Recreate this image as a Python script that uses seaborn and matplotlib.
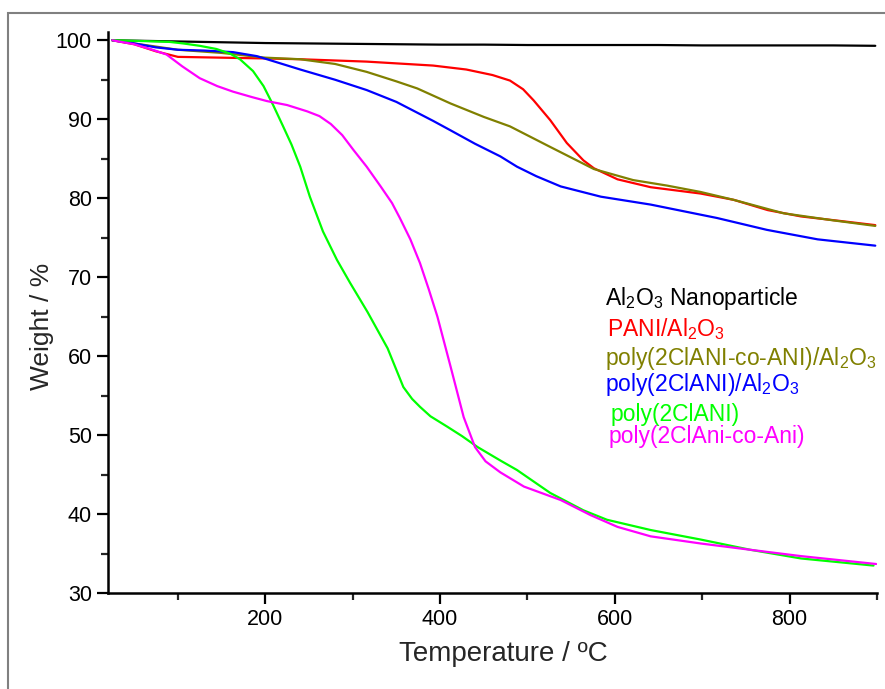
import numpy as np
import seaborn as sns
import matplotlib.pyplot as plt
from matplotlib.patches import Rectangle
from matplotlib.ticker import MultipleLocator

# TGA curves (temperature in C, weight in %)
black_T = [25, 50, 100, 150, 200, 250, 300, 350, 400, 450, 500, 550, 600, 650, 700, 750, 800, 850, 898]
black_W = [100, 99.95, 99.85, 99.75, 99.65, 99.6, 99.55, 99.5, 99.45, 99.45, 99.4, 99.4, 99.4, 99.4,
           99.35, 99.35, 99.35, 99.35, 99.3]

red_T = [25, 50, 75, 100, 150, 200, 240, 316, 392, 430, 460, 480, 495, 507, 526, 545, 564, 576,
         603, 641, 698, 736, 775, 813, 860, 898]
red_W = [100, 99.5, 98.6, 97.9, 97.8, 97.7, 97.6, 97.3, 96.8, 96.3, 95.6, 94.9, 93.8, 92.4, 89.9,
         87.0, 84.8, 83.8, 82.4, 81.4, 80.6, 79.8, 78.5, 77.7, 77.1, 76.6]

olive_T = [25, 50, 100, 150, 200, 240, 280, 316, 350, 374, 412, 450, 480, 526, 576, 621, 660, 698,
           736, 793, 850, 898]
olive_W = [100, 99.6, 98.8, 98.4, 97.8, 97.6, 97.0, 96.0, 94.8, 93.9, 92.0, 90.3, 89.1, 86.5, 83.7,
           82.3, 81.6, 80.8, 79.8, 78.1, 77.2, 76.5]

blue_T = [25, 50, 75, 100, 130, 163, 190, 202, 240, 280, 316, 350, 392, 412, 440, 469, 488, 510,
          538, 584, 641, 717, 774, 832, 898]
blue_W = [100, 99.6, 99.1, 98.8, 98.7, 98.5, 98.0, 97.6, 96.3, 95.0, 93.7, 92.2, 89.8, 88.6, 86.9,
          85.3, 84.0, 82.8, 81.5, 80.2, 79.2, 77.5, 76.0, 74.8, 74.0]

green_T = [25, 60, 90, 106, 125, 144, 160, 171, 186, 198, 209, 220, 230, 240, 251, 266, 282, 297,
           317, 340, 358, 368, 377, 389, 408, 425, 443, 469, 488, 526, 564, 591, 641, 698, 755,
           813, 896]
green_W = [100, 99.9, 99.8, 99.6, 99.3, 98.9, 98.3, 97.6, 96.1, 94.2, 91.8, 89.2, 86.8, 84.0, 80.2,
           75.8, 72.2, 69.3, 65.6, 61.0, 56.1, 54.6, 53.6, 52.4, 51.1, 49.9, 48.5, 46.8, 45.6,
           42.7, 40.5, 39.3, 38.0, 36.8, 35.5, 34.4, 33.5]

magenta_T = [25, 50, 71, 87, 105, 125, 145, 163, 185, 202, 225, 248, 262, 275, 288, 301, 316, 332,
             345, 354, 366, 377, 387, 397, 412, 427, 440, 452, 469, 496, 538, 572, 603, 641, 698,
             755, 813, 899]
magenta_W = [100, 99.5, 98.8, 98.2, 96.7, 95.2, 94.2, 93.5, 92.8, 92.3, 91.8, 91.0, 90.4, 89.4,
             88.0, 86.1, 84.0, 81.5, 79.4, 77.5, 74.8, 71.8, 68.5, 65.0, 58.7, 52.3, 48.5, 46.7,
             45.3, 43.5, 41.8, 39.9, 38.4, 37.2, 36.3, 35.5, 34.7, 33.7]

labels = ['Al$_2$O$_3$ Nanoparticle', 'PANI/Al$_2$O$_3$', 'poly(2ClANI-co-ANI)/Al$_2$O$_3$',
          'poly(2ClANI)/Al$_2$O$_3$', 'poly(2ClANI)', 'poly(2ClAni-co-Ani)']

sns.set_style('ticks')
plt.rcParams['font.family'] = ['Liberation Sans', 'DejaVu Sans']
plt.rcParams['mathtext.fontset'] = 'custom'
plt.rcParams['mathtext.rm'] = 'Liberation Sans'
plt.rcParams['mathtext.default'] = 'regular'

fig = plt.figure(figsize=(8.85, 6.89), dpi=100)
ax = fig.add_axes([0.122, 0.139, 0.869, 0.814])

series = [(black_T, black_W, 'black'), (red_T, red_W, '#ff0000'), (olive_T, olive_W, '#808000'),
          (blue_T, blue_W, '#0000ff'), (green_T, green_W, '#00ff00'), (magenta_T, magenta_W, '#ff00ff')]
for t, w, c in series:
    sns.lineplot(x=t, y=w, color=c, linewidth=1.6, ax=ax)

ax.set_xlim(20, 900)
ax.set_ylim(30, 101)
ax.set_xticks([200, 400, 600, 800])
ax.xaxis.set_minor_locator(MultipleLocator(100))
ax.set_yticks(np.arange(30, 101, 10))
ax.yaxis.set_minor_locator(MultipleLocator(5))
ax.tick_params(which='major', direction='out', length=8, width=1.6, labelsize=15.5, colors='black')
ax.tick_params(which='minor', direction='out', length=5, width=1.6)
for s in ['left', 'bottom']:
    ax.spines[s].set_linewidth(1.8)
    ax.spines[s].set_color('black')
sns.despine(ax=ax)

ax.set_xlabel('Temperature / ºC', fontsize=20)
ax.set_ylabel('Weight / %', fontsize=19)
ax.xaxis.set_label_coords(0.514, -0.085)
ax.yaxis.set_label_coords(-0.07, 0.475)

# legend drawn as coloured text, as in the original figure
txt_x = [589, 591, 589, 589, 595, 593]
txt_y = [66.5, 62.6, 58.9, 55.6, 51.8, 49.0]
txt_c = ['black', '#ff0000', '#808000', '#0000ff', '#00ff00', '#ff00ff']
for lab, x, y, c in zip(labels, txt_x, txt_y, txt_c):
    ax.text(x, y, lab, color=c, fontsize=16.5, va='baseline', ha='left')

fig.patches.append(Rectangle((0.009, -0.1), 1.2, 1.081, transform=fig.transFigure,
                             fill=False, edgecolor='#808080', linewidth=1.5))

fig.savefig('out.png', dpi=100)
